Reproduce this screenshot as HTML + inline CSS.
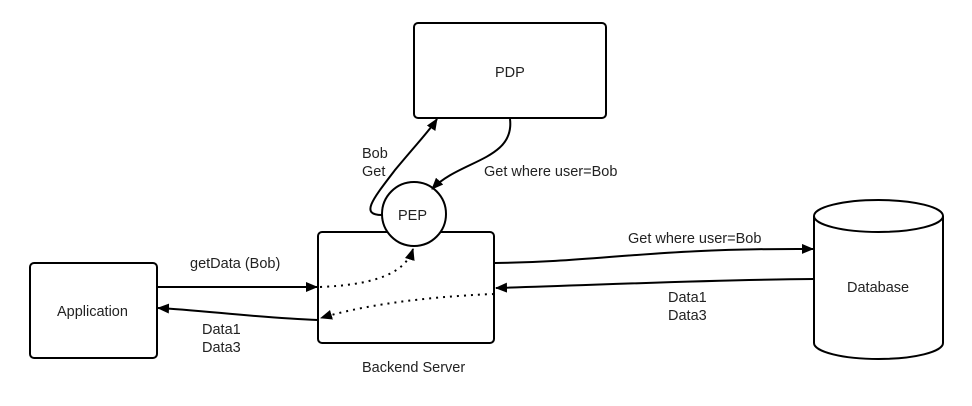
<!DOCTYPE html>
<html><head><style>body{margin:0;background:#fff}svg{display:block}text{font-family:"Liberation Sans",sans-serif;font-size:14.5px;fill:#222}</style></head><body>
<svg width="972" height="406" viewBox="0 0 972 406">
<defs><marker id="a" markerWidth="12" markerHeight="10" refX="11" refY="5" orient="auto" markerUnits="userSpaceOnUse"><path d="M0,0L12,5L0,10z" fill="#000"/></marker></defs>
<g fill="#fff" stroke="#000" stroke-width="2">
<rect x="414" y="23" width="192" height="95" rx="4"/>
<rect x="318" y="232" width="176" height="111" rx="4"/>
<rect x="30" y="263" width="127" height="95" rx="4"/>
<path d="M814,216 L814,343 A64.5,16 0 0 0 943,343 L943,216"/>
<ellipse cx="878.5" cy="216" rx="64.5" ry="16"/>
<circle cx="414" cy="214" r="32"/>
</g>
<g fill="none" stroke="#000" stroke-width="2">
<path d="M382,215 C360,215 372,200 395,170 C420,140 430,130 437,119" marker-end="url(#a)"/>
<path d="M510,119 C515,160 460,160 432,189" marker-end="url(#a)"/>
<path d="M157,287 L317,287" marker-end="url(#a)"/>
<path d="M318,320 C260,318 200,310 158,308" marker-end="url(#a)"/>
<path d="M495,263 C600,262 650,248 813,249" marker-end="url(#a)"/>
<path d="M814,279 C700,280 600,285 496,288" marker-end="url(#a)"/>
<path d="M320,287 C370,285 405,275 413,249" stroke-dasharray="2,5" marker-end="url(#a)"/>
<path d="M494,294 C420,297 360,306 321,318" stroke-dasharray="2,5" marker-end="url(#a)"/>
</g>
<text x="495" y="77">PDP</text>
<text x="398" y="220">PEP</text>
<text x="57" y="316">Application</text>
<text x="847" y="292">Database</text>
<text x="362" y="372">Backend Server</text>
<text x="362" y="158">Bob</text>
<text x="362" y="176">Get</text>
<text x="484" y="176">Get where user=Bob</text>
<text x="628" y="243">Get where user=Bob</text>
<text x="190" y="268">getData (Bob)</text>
<text x="202" y="334">Data1</text>
<text x="202" y="352">Data3</text>
<text x="668" y="302">Data1</text>
<text x="668" y="320">Data3</text>
</svg>
</body></html>
